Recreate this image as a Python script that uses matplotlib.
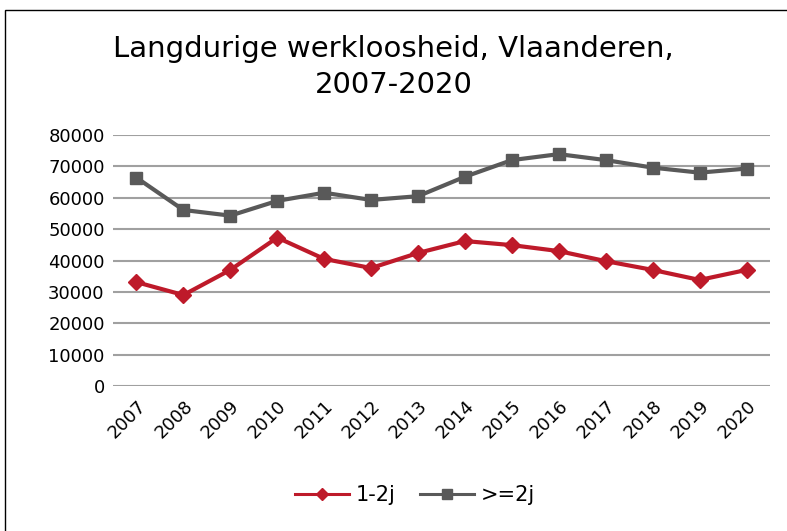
import matplotlib
matplotlib.use("Agg")
import matplotlib.pyplot as plt
from matplotlib.patches import Rectangle
from matplotlib.lines import Line2D

years = ['2007', '2008', '2009', '2010', '2011', '2012', '2013',
         '2014', '2015', '2016', '2017', '2018', '2019', '2020']
kort = [33100, 29000, 37000, 47300, 40500, 37600, 42400,
        46200, 44900, 43000, 39800, 37000, 33800, 37000]
lang = [66400, 56100, 54300, 59000, 61600, 59300, 60500,
        66700, 72000, 73900, 72000, 69600, 68000, 69300]
yticks = [0, 10000, 20000, 30000, 40000, 50000, 60000, 70000, 80000]

red = '#be1a2a'
grey = '#595959'

fig = plt.figure(figsize=(7.87, 5.31), dpi=100)
ax = fig.add_axes([113/787, 1-386/531, 657/787, 251/531])

x = range(len(years))
ax.plot(x, kort, color=red, lw=3, marker='D', ms=8, zorder=3)
ax.plot(x, lang, color=grey, lw=3, marker='s', ms=9, zorder=3)

ax.set_xlim(-0.5, len(years) - 0.5)
ax.set_ylim(0, 80000)
ax.set_yticks(yticks)
ax.set_yticklabels([str(v) for v in yticks], fontsize=13)
ax.set_xticks(list(x))
ax.set_xticklabels(years, fontsize=13, rotation=45, ha='right', rotation_mode='anchor')
ax.tick_params(length=0, pad=6)
ax.tick_params(axis='x', pad=8)
for s in ax.spines.values():
    s.set_visible(False)
ax.yaxis.grid(True, color='#a0a0a0', lw=1.5)
ax.set_axisbelow(True)

fig.text(0.5, 1-67/531, 'Langdurige werkloosheid, Vlaanderen,\n2007-2020',
         ha='center', va='center', fontsize=21, linespacing=1.35)

handles = [Line2D([], [], color=red, lw=2.2, marker='D', ms=6),
           Line2D([], [], color=grey, lw=2.2, marker='s', ms=7)]
fig.legend(handles, ['1-2j', '>=2j'], loc='center',
           bbox_to_anchor=(415/787, 1-495/531), ncol=2,
           frameon=False, fontsize=15, handlelength=2.6, columnspacing=1.2,
           handletextpad=0.3)

fig.patches.append(Rectangle((5/787, -0.05), 1.2, 1-10/531 + 0.05,
                             transform=fig.transFigure, fill=False,
                             edgecolor='black', lw=1))

fig.savefig('out.png', dpi=100)
